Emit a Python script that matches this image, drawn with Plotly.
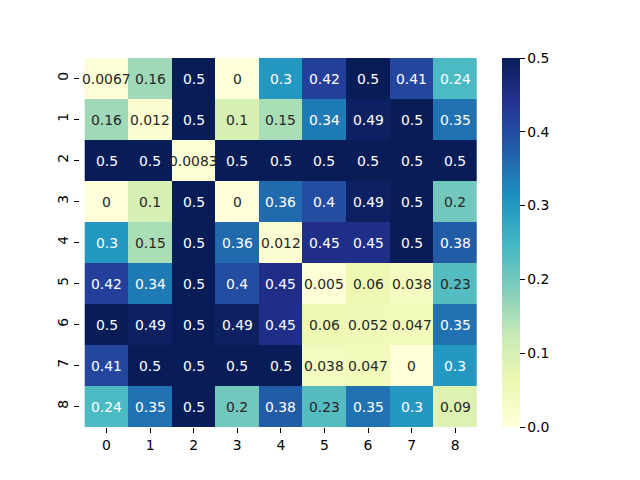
import plotly.graph_objects as go

labels = [str(i) for i in range(9)]
values = [
    [0.0067, 0.16, 0.5, 0, 0.3, 0.42, 0.5, 0.41, 0.24],
    [0.16, 0.012, 0.5, 0.1, 0.15, 0.34, 0.49, 0.5, 0.35],
    [0.5, 0.5, 0.0083, 0.5, 0.5, 0.5, 0.5, 0.5, 0.5],
    [0, 0.1, 0.5, 0, 0.36, 0.4, 0.49, 0.5, 0.2],
    [0.3, 0.15, 0.5, 0.36, 0.012, 0.45, 0.45, 0.5, 0.38],
    [0.42, 0.34, 0.5, 0.4, 0.45, 0.005, 0.06, 0.038, 0.23],
    [0.5, 0.49, 0.5, 0.49, 0.45, 0.06, 0.052, 0.047, 0.35],
    [0.41, 0.5, 0.5, 0.5, 0.5, 0.038, 0.047, 0, 0.3],
    [0.24, 0.35, 0.5, 0.2, 0.38, 0.23, 0.35, 0.3, 0.09],
]
cbar_ticks = [0.0, 0.1, 0.2, 0.3, 0.4, 0.5]

ylgnbu = ["#ffffd9", "#edf8b1", "#c7e9b4", "#7fcdbb", "#41b6c4",
          "#1d91c0", "#225ea8", "#253494", "#081d58"]
colorscale = [[i / 8, c] for i, c in enumerate(ylgnbu)]

FONT = "DejaVu Sans"
FS = 13.9

fig = go.Figure(go.Heatmap(
    z=values, x=labels, y=labels,
    zmin=0, zmax=0.5, colorscale=colorscale,
    xgap=0, ygap=0,
    colorbar=dict(
        thickness=18, len=1, lenmode="fraction", y=0.5, yanchor="middle",
        x=1.063, xanchor="left", xpad=0, ypad=0, outlinewidth=0,
        tickvals=cbar_ticks, ticktext=[f"{t:.1f}" for t in cbar_ticks],
        ticks="outside", ticklen=5, tickcolor="black",
        tickfont=dict(family=FONT, size=FS, color="black"),
    ),
    hoverinfo="skip",
))

for i, row in enumerate(values):
    for j, v in enumerate(row):
        color = "#262626" if v < 0.235 else "white"
        fig.add_annotation(x=labels[j], y=labels[i], text=f"{v:g}",
                           showarrow=False,
                           font=dict(family=FONT, size=FS, color=color))

fig.update_layout(
    width=640, height=480,
    margin=dict(l=80, r=163, t=58, b=53),
    paper_bgcolor="white", plot_bgcolor="white",
    font=dict(family=FONT, size=FS, color="black"),
    xaxis=dict(ticks="outside", ticklen=5, tickcolor="black",
               showgrid=False, zeroline=False, showline=False,
               tickfont=dict(family=FONT, size=FS, color="black")),
    yaxis=dict(ticks="outside", ticklen=5, tickcolor="black",
               autorange="reversed", tickangle=-90,
               showgrid=False, zeroline=False, showline=False,
               tickfont=dict(family=FONT, size=FS, color="black")),
)

fig.write_html("out.html")
